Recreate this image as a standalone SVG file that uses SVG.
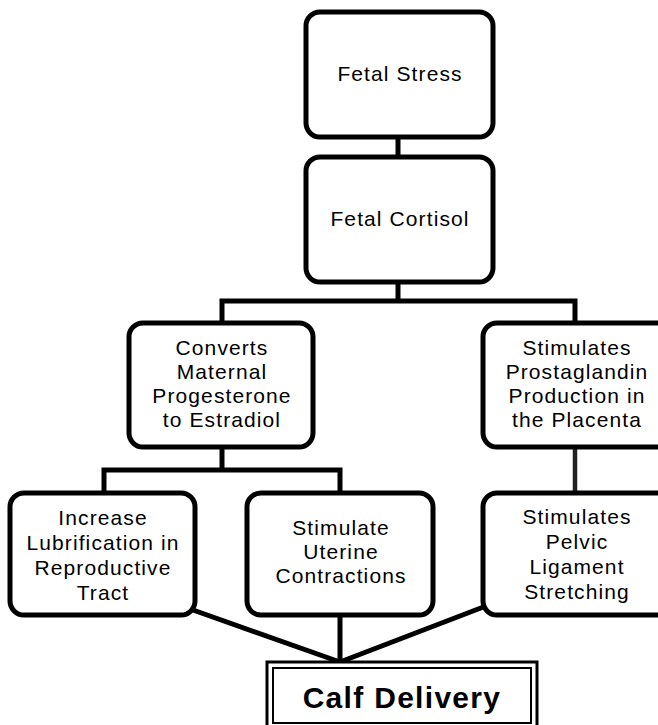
<svg xmlns="http://www.w3.org/2000/svg" width="658" height="725" viewBox="0 0 658 725">
  <style>
    .box { fill: #ffffff; stroke: #000000; stroke-width: 5; }
    .t { font-family: "Liberation Sans", Arial, sans-serif; font-size: 21px; letter-spacing: 1.1px; text-anchor: middle; fill: #000000; }
    .tb { font-family: "Liberation Sans", Arial, sans-serif; font-size: 30px; font-weight: bold; letter-spacing: 1.3px; text-anchor: middle; fill: #000000; }
    .conn { fill: none; stroke: #000000; stroke-width: 5; stroke-linejoin: miter; stroke-linecap: butt; }
  </style>
  <rect x="0" y="0" width="658" height="725" fill="#ffffff"/>

  <g id="connectors">
    <path class="conn" d="M398,137 V157"/>
    <path class="conn" d="M398,282 V301"/>
    <path class="conn" d="M222,323 V301 H575 V323"/>
    <path class="conn" d="M222,447 V470"/>
    <path class="conn" d="M104,493 V470 H340 V493"/>
    <path class="conn" d="M575,447 V493" style="stroke:#222222;stroke-width:4.5"/>
    <path class="conn" d="M193,610 L340,662"/>
    <path class="conn" d="M340,615 V662"/>
    <path class="conn" d="M486,606 L340,662"/>
  </g>

  <g id="fetal-stress">
    <rect class="box" x="306" y="12" width="187" height="125" rx="14"/>
    <text class="t" x="400" y="81">Fetal Stress</text>
  </g>

  <g id="fetal-cortisol">
    <rect class="box" x="306" y="157" width="187" height="125" rx="14"/>
    <text class="t" x="400" y="226">Fetal Cortisol</text>
  </g>

  <g id="converts">
    <rect class="box" x="129" y="323" width="184" height="124" rx="14"/>
    <text class="t" x="222" y="355">Converts</text>
    <text class="t" x="222" y="379">Maternal</text>
    <text class="t" x="222" y="403">Progesterone</text>
    <text class="t" x="222" y="427">to Estradiol</text>
  </g>

  <g id="prostaglandin">
    <rect class="box" x="483" y="323" width="188" height="124" rx="14"/>
    <text class="t" x="577" y="355">Stimulates</text>
    <text class="t" x="577" y="379">Prostaglandin</text>
    <text class="t" x="577" y="403">Production in</text>
    <text class="t" x="577" y="427">the Placenta</text>
  </g>

  <g id="lubrification">
    <rect class="box" x="10" y="493" width="185" height="122" rx="14"/>
    <text class="t" x="103" y="525">Increase</text>
    <text class="t" x="103" y="550">Lubrification in</text>
    <text class="t" x="103" y="575">Reproductive</text>
    <text class="t" x="103" y="600">Tract</text>
  </g>

  <g id="uterine">
    <rect class="box" x="247" y="493" width="186" height="122" rx="14"/>
    <text class="t" x="341" y="535">Stimulate</text>
    <text class="t" x="341" y="559">Uterine</text>
    <text class="t" x="341" y="583">Contractions</text>
  </g>

  <g id="pelvic">
    <rect class="box" x="483" y="493" width="188" height="122" rx="14"/>
    <text class="t" x="577" y="524">Stimulates</text>
    <text class="t" x="577" y="549">Pelvic</text>
    <text class="t" x="577" y="574">Ligament</text>
    <text class="t" x="577" y="599">Stretching</text>
  </g>

  <g id="calf-delivery">
    <rect x="267" y="662" width="270" height="70" fill="#ffffff" stroke="#000000" stroke-width="3"/>
    <rect x="273" y="668" width="258" height="55" fill="none" stroke="#000000" stroke-width="2"/>
    <text class="tb" x="402" y="708">Calf Delivery</text>
  </g>
</svg>
